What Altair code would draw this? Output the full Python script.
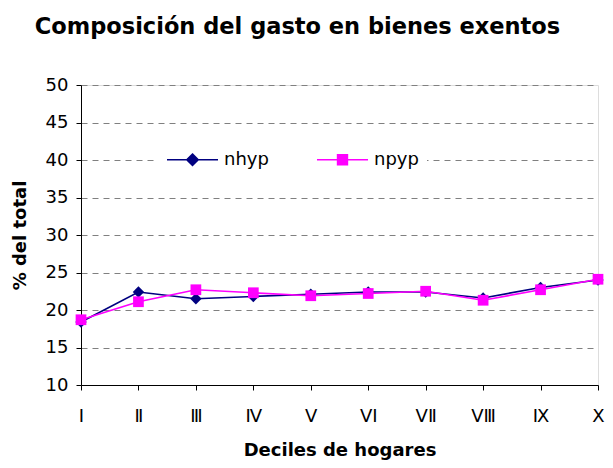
import altair as alt
import pandas as pd

deciles = ["I", "Ⅱ", "Ⅲ", "Ⅳ", "V", "VⅠ", "VⅡ", "VⅢ", "Ⅸ", "X"]
nhyp = [18.4, 22.4, 21.5, 21.8, 22.1, 22.4, 22.4, 21.6, 23.0, 24.0]
npyp = [18.7, 21.1, 22.7, 22.3, 21.9, 22.2, 22.5, 21.3, 22.7, 24.1]
series = ["nhyp", "npyp"]
colors = ["#000080", "#FF00FF"]
y_ticks = [10, 15, 20, 25, 30, 35, 40, 45, 50]

rows = []
for name, vals in zip(series, [nhyp, npyp]):
    for i, (d, v) in enumerate(zip(deciles, vals)):
        rows.append({"decil": d, "serie": name, "valor": v, "orden": i})
df = pd.DataFrame(rows)

FONT = "DejaVu Sans"

x_enc = alt.X(
    "decil:N", sort=deciles, scale=alt.Scale(padding=0),
    axis=alt.Axis(title="Deciles de hogares", labelAngle=0, grid=False,
                  labelFont=FONT, labelFontSize=18, labelColor="black",
                  labelPadding=17, tickColor="black", tickSize=5,
                  domainColor="black", titleFont=FONT, titleFontSize=18,
                  titleFontWeight="bold", titleColor="black", titlePadding=16),
)
y_enc = alt.Y(
    "valor:Q", scale=alt.Scale(domain=[10, 50], nice=False, zero=False),
    axis=alt.Axis(title="% del total", values=y_ticks, grid=True,
                  gridDash=[6, 5], gridColor="#808080", gridWidth=1,
                  labelFont=FONT, labelFontSize=18, labelColor="black",
                  labelPadding=8, tickColor="black", tickSize=5,
                  domainColor="black", titleFont=FONT, titleFontSize=18,
                  titleFontWeight="bold", titleColor="black", titlePadding=16),
)

base = alt.Chart(df)


def series_layers(name, color, shape, size):
    sub = base.transform_filter(alt.datum.serie == name)
    line = sub.mark_line(strokeWidth=1.7, color=color).encode(
        x=x_enc, y=y_enc, order="orden:Q"
    )
    pts = sub.mark_point(shape=shape, filled=True, size=size, opacity=1, color=color).encode(
        x=x_enc, y=y_enc
    )
    return [line, pts]


leg = alt.Legend(
    title=None, orient="none", legendX=77, legendY=40, direction="horizontal",
    labelFont=FONT, labelFontSize=18, labelColor="black", labelOffset=5,
    symbolSize=2601, symbolStrokeWidth=1.7, columnPadding=44,
    fillColor="white", padding=8,
)
paths = [
    "M-1,0L1,0M0,-0.22L0.22,0L0,0.22L-0.22,0Z",
    "M-1,0L1,0M-0.19,-0.19L0.19,-0.19L0.19,0.19L-0.19,0.19Z",
]
legend_layer = base.transform_filter("false").mark_point(
    filled=True, strokeWidth=1.7, opacity=1
).encode(
    color=alt.Color("serie:N", scale=alt.Scale(domain=series, range=colors), legend=leg),
    stroke=alt.Stroke("serie:N", scale=alt.Scale(domain=series, range=colors), legend=leg),
    shape=alt.Shape("serie:N", scale=alt.Scale(domain=series, range=paths), legend=leg),
)

layers = (series_layers("nhyp", colors[0], "diamond", 130)
          + series_layers("npyp", colors[1], "square", 115)
          + [legend_layer])

chart = alt.layer(*layers).properties(
    width=517, height=300,
    title=alt.TitleParams(
        "Composición del gasto en bienes exentos", font=FONT, fontSize=22.5,
        fontWeight="bold", color="black", anchor="middle", dx=-42, offset=38,
    ),
    autosize=alt.AutoSizeParams(type="none"),
    padding={"left": 73, "top": 77, "right": 7, "bottom": 75},
).configure_view(stroke=None).configure(background="white")

chart.save("out.html", embed_options={"renderer": "svg", "actions": False})
